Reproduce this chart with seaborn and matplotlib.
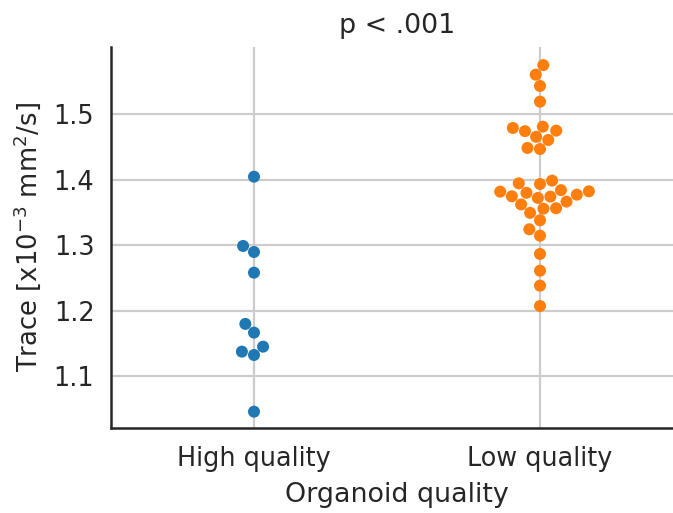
import numpy as np
import pandas as pd
import matplotlib
matplotlib.use("Agg")
import matplotlib.pyplot as plt
import seaborn as sns

categories = ["High quality", "Low quality"]
high_values = [1.4044, 1.2988, 1.2896, 1.2581, 1.1800, 1.1667, 1.1453, 1.1377, 1.1326, 1.0462]
low_values = [1.5745, 1.5599, 1.5427, 1.5188, 1.4787, 1.4738, 1.4807, 1.4746, 1.4652, 1.4604,
              1.4482, 1.4466, 1.3984, 1.3943, 1.3932, 1.3839, 1.3821, 1.3816, 1.3798, 1.3770,
              1.3745, 1.3720, 1.3740, 1.3664, 1.3621, 1.3563, 1.3556, 1.3493, 1.3380, 1.3242,
              1.3145, 1.2866, 1.2611, 1.2383, 1.2073]
yticks = [1.1, 1.2, 1.3, 1.4, 1.5]

df = pd.DataFrame({
    "Organoid quality": [categories[0]] * len(high_values) + [categories[1]] * len(low_values),
    "Trace": high_values + low_values,
})

sns.set_theme(style="whitegrid", context="talk")
plt.rcParams["font.family"] = ["DejaVu Sans"]

fig = plt.figure(figsize=(6.73, 5.13), dpi=100)
W, H = 673, 513
ax = fig.add_axes([111 / W, (H - 428) / H, 572 / W, 381 / H])

sns.swarmplot(data=df, x="Organoid quality", y="Trace", hue="Organoid quality",
              palette="tab10", size=8.64, ax=ax, legend=False, order=categories)

ax.set_ylim(1.0213, 1.6021)
ax.set_xlim(-0.5, 1.5)
ax.set_yticks(yticks)
ax.set_yticklabels([f"{v:.1f}" for v in yticks])
ax.grid(True, axis="both", color="#cccccc", linewidth=1.6)
ax.set_axisbelow(True)
for s in ["top", "right"]:
    ax.spines[s].set_visible(False)
for s in ["left", "bottom"]:
    ax.spines[s].set_color("#262626")
    ax.spines[s].set_linewidth(1.8)

ax.tick_params(axis="both", labelsize=18.4, colors="#262626", length=0)
ax.tick_params(axis="y", pad=12)
ax.tick_params(axis="x", pad=13)
ax.set_xlabel("Organoid quality", fontsize=19.4, color="#262626", labelpad=7)
ax.set_ylabel("Trace [x10$^{-3}$ mm$^2$/s]", fontsize=18.6, color="#262626", labelpad=8)
ax.set_title("p < .001", fontsize=19.4, color="#262626", pad=10)

fig.savefig("out.png", dpi=100)
